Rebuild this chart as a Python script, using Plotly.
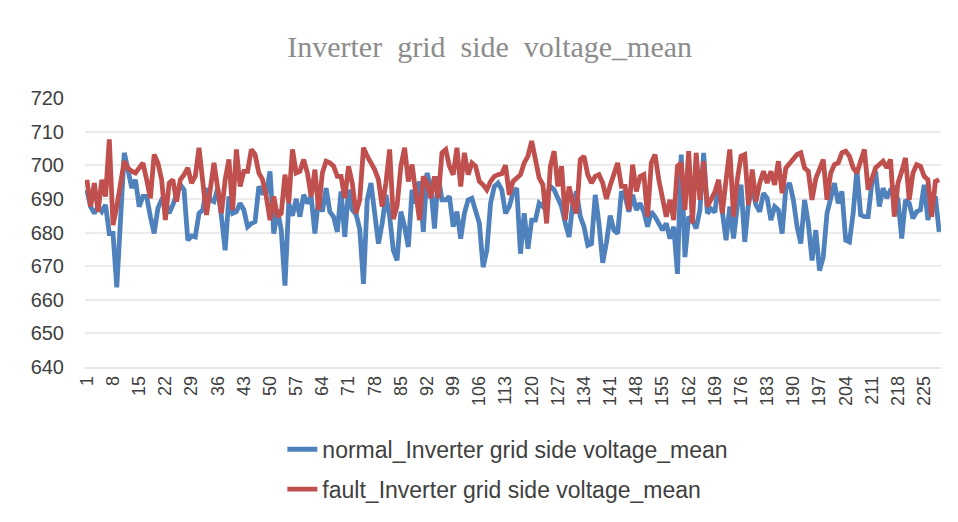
import plotly.graph_objects as go

categories = list(range(1, 230))

normal_values = [
    692.7, 687.7, 685.7, 687.7, 686.2, 688.2, 679.7, 679.7, 663.7, 683.7,
    703.7, 698.7, 693.2, 695.7, 687.7, 690.7, 690.7, 684.7, 679.7, 687.2,
    689.7, 689.2, 685.7, 688.2, 691.2, 694.2, 692.7, 677.7, 679.0, 678.7,
    685.7, 686.7, 693.2, 689.7, 689.2, 693.2, 684.7, 674.7, 690.7, 685.7,
    686.2, 688.7, 686.7, 681.7, 682.7, 683.2, 693.7, 691.7, 691.7, 698.2,
    679.7, 686.7, 680.7, 664.2, 688.7, 685.0, 690.0, 684.7, 691.2, 688.7,
    690.7, 679.7, 690.2, 686.2, 693.2, 686.2, 684.7, 680.2, 692.2, 678.7,
    692.7, 686.7, 685.5, 681.0, 664.7, 689.7, 694.7, 685.7, 676.7, 682.7,
    691.2, 684.7, 674.7, 671.7, 686.2, 681.7, 675.7, 692.7, 688.7, 695.2,
    680.2, 697.7, 693.7, 681.2, 696.7, 689.7, 689.7, 690.7, 681.7, 686.2,
    678.2, 685.7, 689.7, 690.2, 686.7, 682.7, 669.7, 674.7, 688.7, 693.7,
    694.7, 692.7, 685.7, 687.7, 691.7, 693.2, 673.7, 685.7, 675.2, 683.7,
    683.7, 688.7, 687.7, 690.7, 693.7, 692.7, 690.2, 687.7, 682.7, 678.7,
    688.7, 692.2, 684.7, 681.7, 676.2, 676.7, 691.2, 682.7, 671.0, 677.0,
    685.0, 680.7, 679.7, 692.2, 690.7, 686.2, 691.2, 686.7, 688.7, 686.2,
    681.7, 686.2, 684.7, 682.7, 680.7, 682.7, 678.2, 681.7, 667.7, 703.2,
    672.7, 684.7, 683.7, 681.2, 686.7, 703.7, 685.7, 687.0, 686.0, 694.7,
    684.7, 677.7, 687.7, 678.2, 687.7, 694.2, 677.2, 688.7, 693.2, 688.2,
    686.2, 691.7, 690.2, 683.7, 687.7, 686.7, 679.7, 693.2, 694.7, 689.7,
    681.7, 676.7, 689.7, 682.7, 671.7, 680.7, 668.7, 672.7, 685.7, 690.7,
    694.7, 688.7, 692.2, 677.7, 677.2, 685.7, 698.7, 685.2, 684.7, 684.7,
    694.7, 698.2, 687.7, 693.2, 690.2, 692.7, 693.2, 689.7, 678.2, 689.7,
    688.7, 684.2, 686.2, 686.7, 694.2, 683.7, 688.7, 690.7, 680.2,
]

fault_values = [
    695.7, 687.7, 694.7, 686.2, 695.7, 690.7, 707.7, 682.2, 687.7, 695.7,
    701.2, 699.2, 698.2, 697.7, 699.2, 700.7, 695.7, 690.2, 703.2, 700.7,
    695.7, 683.7, 694.7, 695.7, 689.2, 695.7, 697.2, 699.2, 694.7, 696.7,
    705.2, 695.7, 685.2, 692.7, 700.7, 693.2, 685.7, 695.7, 701.7, 686.7,
    704.7, 693.7, 698.2, 698.2, 704.7, 703.2, 697.7, 695.7, 690.7, 683.7,
    690.7, 684.7, 685.7, 697.2, 688.7, 704.7, 697.7, 698.2, 701.7, 697.7,
    690.7, 698.7, 686.7, 697.7, 701.2, 700.7, 699.7, 696.7, 696.7, 690.2,
    699.7, 694.7, 685.7, 689.7, 705.2, 702.7, 700.7, 698.7, 695.7, 687.7,
    694.7, 704.7, 684.0, 688.0, 699.7, 705.2, 695.2, 700.2, 691.7, 683.7,
    696.7, 694.7, 690.2, 696.7, 690.2, 703.7, 704.7, 699.7, 697.2, 705.2,
    693.7, 703.7, 697.2, 700.7, 699.7, 695.2, 694.2, 692.7, 695.2, 696.7,
    697.2, 697.5, 700.0, 691.2, 695.2, 696.2, 697.2, 700.7, 702.7, 707.2,
    701.7, 696.2, 694.2, 682.7, 699.7, 704.2, 693.7, 699.7, 683.7, 693.7,
    688.7, 685.7, 701.7, 702.7, 697.2, 694.7, 696.7, 697.2, 694.7, 690.0,
    694.0, 697.2, 700.7, 693.7, 693.7, 686.7, 700.2, 692.2, 696.7, 697.2,
    684.7, 700.7, 703.2, 695.7, 689.7, 684.7, 689.7, 683.7, 699.7, 700.7,
    686.7, 704.2, 682.7, 703.7, 689.7, 701.2, 687.7, 690.0, 692.0, 695.7,
    685.7, 695.7, 704.7, 684.7, 695.7, 702.7, 703.2, 688.2, 698.7, 689.2,
    694.7, 698.2, 694.7, 698.2, 694.2, 701.2, 691.7, 699.2, 700.7, 702.2,
    703.2, 703.7, 699.2, 698.2, 689.7, 696.0, 699.0, 701.7, 689.7, 697.7,
    700.2, 700.7, 703.7, 704.2, 702.7, 699.2, 697.7, 700.7, 704.7, 692.7,
    696.2, 699.2, 700.2, 701.2, 699.2, 701.7, 684.7, 694.7, 698.2, 702.2,
    689.7, 697.7, 700.2, 699.7, 696.7, 695.7, 684.7, 695.2, 695.7,
]

tick_values = categories[::7]
tick_labels = [str(v) for v in tick_values]
y_ticks = [640, 650, 660, 670, 680, 690, 700, 710, 720]

series_names = [
    "normal_Inverter grid side voltage_mean",
    "fault_Inverter grid side voltage_mean",
]
series_colors = ["#4F81BD", "#C0504D"]
title_text = "Inverter\u00a0\u00a0grid\u00a0\u00a0side\u00a0\u00a0voltage_mean"

fig = go.Figure()
for name, vals, col, grp in zip(series_names, [normal_values, fault_values],
                                series_colors, ["a", "b"]):
    fig.add_trace(go.Scatter(
        x=categories, y=vals, mode="lines", name=name, legendgroup=grp,
        line=dict(color=col, width=4.8, shape="linear"),
    ))

fig.update_layout(
    width=950, height=514,
    paper_bgcolor="white", plot_bgcolor="white",
    margin=dict(l=77, r=17, t=90, b=155, autoexpand=False),
    title=dict(
        text=title_text,
        x=0.507, xanchor="center", y=0.926, yanchor="middle",
        font=dict(family="Liberation Serif", size=30, color="#8C8C8C"),
    ),
    font=dict(family="Liberation Sans", color="#404040"),
    legend=dict(
        orientation="v", x=0.494, xanchor="center", y=-0.226, yanchor="top",
        font=dict(family="Liberation Sans", size=23, color="#404040"),
        tracegroupgap=7, bgcolor="rgba(0,0,0,0)",
    ),
    showlegend=True,
)
fig.update_xaxes(
    range=[0.5, 229.5], tickmode="array", tickvals=tick_values,
    ticktext=tick_labels, tickangle=-90, showgrid=False,
    tickfont=dict(size=18, color="#404040"), ticks="",
    showline=True, linecolor="#E6E6E6", linewidth=1.5, zeroline=False,
)
fig.update_yaxes(
    range=[640, 720], tickmode="array", tickvals=y_ticks,
    showgrid=True, gridcolor="#EBEBEB", gridwidth=1.5,
    tickfont=dict(size=20, color="#404040"), ticks="",
    ticklabelstandoff=20, zeroline=False, showline=False,
)

fig.write_html("out.html")
